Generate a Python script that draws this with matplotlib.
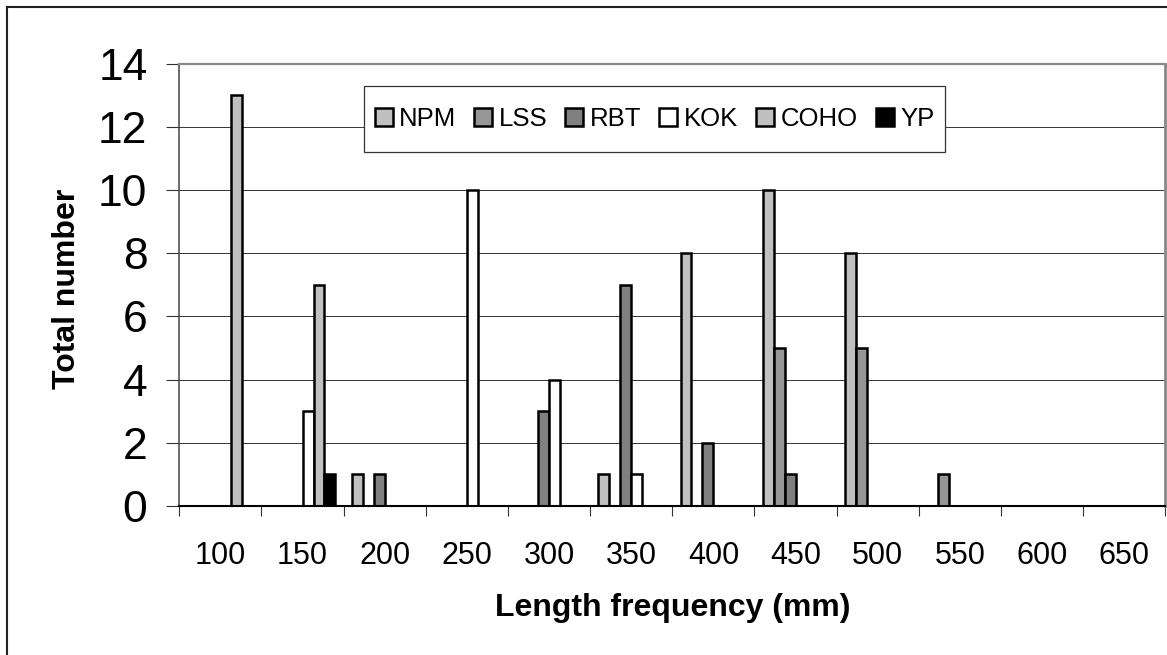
import numpy as np
import matplotlib
matplotlib.use("Agg")
import matplotlib.pyplot as plt
from matplotlib.patches import Rectangle
from matplotlib.lines import Line2D

plt.rcParams['font.family'] = ['Liberation Sans', 'DejaVu Sans']

categories = ['100', '150', '200', '250', '300', '350', '400', '450', '500', '550', '600', '650']
series_names = ['NPM', 'LSS', 'RBT', 'KOK', 'COHO', 'YP']
npm  = [0, 0, 1, 0, 0, 1, 8, 10, 8, 0, 0, 0]
lss  = [0, 0, 0, 0, 0, 0, 0, 5, 5, 1, 0, 0]
rbt  = [0, 0, 1, 0, 3, 7, 2, 1, 0, 0, 0, 0]
kok  = [0, 3, 0, 10, 4, 1, 0, 0, 0, 0, 0, 0]
coho = [13, 7, 0, 0, 0, 0, 0, 0, 0, 0, 0, 0]
yp   = [0, 1, 0, 0, 0, 0, 0, 0, 0, 0, 0, 0]
series_values = [npm, lss, rbt, kok, coho, yp]
colors = ['#C0C0C0', '#969696', '#808080', '#FFFFFF', '#C0C0C0', '#000000']
y_ticks = [0, 2, 4, 6, 8, 10, 12, 14]

W, H = 1167, 655
fig = plt.figure(figsize=(W / 100, H / 100), dpi=100)
ax = fig.add_axes([179.3 / W, (H - 506) / H, 986 / W, 442.5 / H])

x = np.arange(len(categories))
n = len(series_names)
w = 1 / 7.5
handles = []
for i, (name, vals, c) in enumerate(zip(series_names, series_values, colors)):
    b = ax.bar(x + (i - (n - 1) / 2) * w, vals, width=w, color=c,
               edgecolor='black', linewidth=1.8, label=name, zorder=3)
    handles.append(b)

ax.set_xlim(-0.5, len(categories) - 0.5)
ax.set_ylim(0, 14)
ax.set_yticks(y_ticks)
ax.set_yticklabels([str(t) for t in y_ticks])
ax.set_xticks(x)
ax.set_xticklabels(categories)
ax.set_xticks(np.arange(-0.5, len(categories), 1.0), minor=True)

ax.tick_params(axis='x', which='major', length=0, pad=25, labelsize=22)
ax.tick_params(axis='x', which='minor', length=7.5, width=0.8, color='#333333', direction='out')
ax.tick_params(axis='y', which='major', length=9.4, width=0.8, color='#333333',
               direction='out', pad=13.5, labelsize=32)

ax.yaxis.grid(True, color='#333333', linewidth=0.7)
ax.set_axisbelow(True)

ax.spines['left'].set_color('#444444')
ax.spines['left'].set_linewidth(1.1)
ax.spines['bottom'].set_color('black')
ax.spines['bottom'].set_linewidth(1.5)
ax.spines['top'].set_color('#888888')
ax.spines['top'].set_linewidth(1.6)
ax.spines['right'].set_color('#888888')
ax.spines['right'].set_linewidth(2.0)
for s in ax.spines.values():
    s.set_zorder(4)

ax.set_xlabel('Length frequency (mm)', fontsize=23, fontweight='bold')
ax.xaxis.set_label_coords(0.5, (506 - 593.3) / 442.5)
ax.set_ylabel('Total number', fontsize=23, fontweight='bold')
ax.yaxis.set_label_coords((81.8 - 179.3) / 986, (506 - 289) / 442.5)

# legend box
box = Rectangle((364 / W, 1 - 152 / H), (945 - 364) / W, 66 / H,
                transform=fig.transFigure, facecolor='white', edgecolor='#333333',
                linewidth=0.9, zorder=6, clip_on=False)
ax.add_patch(box)
leg = ax.legend(handles=handles, labels=series_names, ncol=6, frameon=False,
                loc='center', bbox_to_anchor=(654.5 / W, 1 - 119 / H),
                bbox_transform=fig.transFigure, fontsize=18.5,
                handlelength=0.7, handleheight=0.7, handletextpad=0.25,
                columnspacing=0.7, borderpad=0.2)
leg.set_zorder(7)

# outer chart frame
fig.add_artist(Line2D([6.7 / W, 6.7 / W], [0, 1 - 6.7 / H], transform=fig.transFigure,
                      color='#222222', linewidth=1.5))
fig.add_artist(Line2D([6.7 / W, 1], [1 - 6.7 / H, 1 - 6.7 / H], transform=fig.transFigure,
                      color='#222222', linewidth=1.5))

fig.savefig('out.png', dpi=100)
